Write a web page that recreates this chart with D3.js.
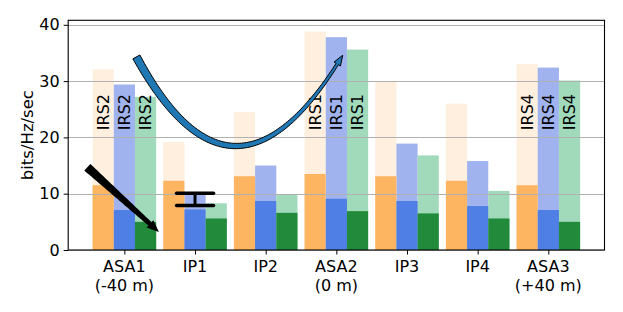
<!DOCTYPE html>
<html>
<head>
<meta charset="utf-8">
<script src="https://cdn.jsdelivr.net/npm/d3@7"></script>
<style>
  body { margin: 0; background: #fff; }
  text { font-family: "DejaVu Sans", sans-serif; fill: #000; }
</style>
</head>
<body>
<div id="chart"></div>
<script>
// categories and tick labels (second line optional)
var categories = ["ASA1", "IP1", "IP2", "ASA2", "IP3", "IP4", "ASA3"];
var subLabels = ["(-40 m)", "", "", "(0 m)", "", "", "(+40 m)"];
var yTicks = [0, 10, 20, 30, 40];

// full-height (light) and base (dark) values per series, bits/Hz/sec
var orangeTotal = [32.1, 19.2, 24.5, 38.8, 29.9, 26.0, 33.0];
var orangeBase  = [11.5, 12.3, 13.1, 13.5, 13.1, 12.3, 11.5];
var blueTotal   = [29.4, 10.0, 15.0, 37.8, 18.9, 15.8, 32.4];
var blueBase    = [7.1, 7.2, 8.7, 9.1, 8.7, 7.8, 7.1];
var greenTotal  = [27.2, 8.3, 9.9, 35.6, 16.8, 10.5, 30.1];
var greenBase   = [5.0, 5.6, 6.6, 6.9, 6.5, 5.6, 5.0];

// IRS label per group
var irsLabels = ["IRS2", "", "", "IRS1", "", "", "IRS4"];

// error bar on IP1 blue bar
var ip1Error = [7.9, 10.1];

var width = 623, height = 312,
    margin = {left: 68.2, right: 18.5, top: 20.3, bottom: 62},
    barFrac = 0.3;

var series = [
    {total: orangeTotal, base: orangeBase, light: "#feefdf", dark: "#feb562"},
    {total: blueTotal, base: blueBase, light: "#a0b3ee", dark: "#4f7fe4"},
    {total: greenTotal, base: greenBase, light: "#a0dabb", dark: "#228b3b"}
];

var x = d3.scaleLinear()
    .domain([-0.795, categories.length - 1 + 0.795])
    .range([margin.left, width - margin.right]);

var y = d3.scaleLinear()
    .domain([0, 40.8])
    .range([height - margin.bottom, margin.top]);

var svg = d3.select("#chart")
    .append("svg")
    .attr("width", width)
    .attr("height", height);

var barW = x(barFrac) - x(0);

var _barX = function(i, s) {
    return x(i) + (s - 1) * barW - barW / 2;
};

// light (total) bars, then dark (base) bars on top
series.forEach(function(ser, s) {
    svg.append("g").selectAll("rect")
        .data(ser.total)
        .enter()
        .append("rect")
        .attr("x", function(d, i) { return _barX(i, s); })
        .attr("y", function(d) { return y(d); })
        .attr("width", barW)
        .attr("height", function(d) { return y(0) - y(d); })
        .style("fill", ser.light);
});

series.forEach(function(ser, s) {
    svg.append("g").selectAll("rect")
        .data(ser.base)
        .enter()
        .append("rect")
        .attr("x", function(d, i) { return _barX(i, s); })
        .attr("y", function(d) { return y(d); })
        .attr("width", barW)
        .attr("height", function(d) { return y(0) - y(d); })
        .style("fill", ser.dark);
});

// horizontal grid
svg.append("g").selectAll("line")
    .data(yTicks)
    .enter()
    .append("line")
    .attr("x1", x.range()[0])
    .attr("x2", x.range()[1])
    .attr("y1", function(d) { return Math.round(y(d)) + 0.5; })
    .attr("y2", function(d) { return Math.round(y(d)) + 0.5; })
    .style("stroke", "#b0b0b0")
    .style("stroke-width", 1.2);

// IRS labels, rotated, in each bar of the group
irsLabels.forEach(function(lbl, i) {
    if (!lbl) return;
    series.forEach(function(ser, s) {
        var cx = _barX(i, s) + barW / 2 + 5.8;
        svg.append("text")
            .attr("transform", "translate(" + cx + "," + y(24.5) + ") rotate(-90)")
            .attr("text-anchor", "middle")
            .style("font-size", "16px")
            .text(lbl);
    });
});

// tapered arrow polygon along a list of pixel points
var taperedArrow = function(pts, w0, w1, headLen, headW) {
    var cum = [0];
    for (var k = 1; k < pts.length; k++) {
        cum.push(cum[k - 1] + Math.hypot(pts[k][0] - pts[k - 1][0], pts[k][1] - pts[k - 1][1]));
    }
    var total = cum[cum.length - 1], baseLen = total - headLen;
    var left = [], right = [], lastN, lastP;
    for (var j = 0; j < pts.length && cum[j] <= baseLen; j++) {
        var a = pts[Math.max(0, j - 1)], b = pts[Math.min(pts.length - 1, j + 1)];
        var tx = b[0] - a[0], ty = b[1] - a[1], tl = Math.hypot(tx, ty);
        var n = [-ty / tl, tx / tl];
        var w = w0 + (w1 - w0) * (cum[j] / baseLen);
        left.push([pts[j][0] + n[0] * w / 2, pts[j][1] + n[1] * w / 2]);
        right.push([pts[j][0] - n[0] * w / 2, pts[j][1] - n[1] * w / 2]);
        lastN = n; lastP = pts[j];
    }
    var apex = pts[pts.length - 1];
    var poly = left.concat([
        [lastP[0] + lastN[0] * headW / 2, lastP[1] + lastN[1] * headW / 2],
        apex,
        [lastP[0] - lastN[0] * headW / 2, lastP[1] - lastN[1] * headW / 2]
    ]).concat(right.reverse());
    return "M" + poly.map(function(p) { return p[0].toFixed(2) + "," + p[1].toFixed(2); }).join("L") + "Z";
};

// curved blue arrow (quadratic bezier in data coordinates)
var curve = [[0.17, 34.3], [1.545, 2.49], [3.09, 34.6]].map(function(p) { return [x(p[0]), y(p[1])]; });
var curvePts = d3.range(0, 1.0001, 1 / 120).map(function(t) {
    var u = 1 - t;
    return [u * u * curve[0][0] + 2 * u * t * curve[1][0] + t * t * curve[2][0],
            u * u * curve[0][1] + 2 * u * t * curve[1][1] + t * t * curve[2][1]];
});
svg.append("path")
    .attr("d", taperedArrow(curvePts, 8, 2.6, 8, 7.5))
    .style("fill", "#1f77b4")
    .style("stroke", "#000")
    .style("stroke-width", 1)
    .style("stroke-linejoin", "miter");

// straight black arrow
var s0 = [x(-0.524), y(14.7)], s1 = [x(0.489), y(3.2)];
var straightPts = d3.range(0, 1.0001, 1 / 40).map(function(t) {
    return [s0[0] + (s1[0] - s0[0]) * t, s0[1] + (s1[1] - s0[1]) * t];
});
svg.append("path")
    .attr("d", taperedArrow(straightPts, 9, 4.5, 10, 10))
    .style("fill", "#000");

// error bar on IP1
var eg = svg.append("g").style("stroke", "#000").style("stroke-linecap", "round");
eg.append("line")
    .attr("x1", x(1)).attr("x2", x(1))
    .attr("y1", y(ip1Error[0])).attr("y2", y(ip1Error[1]))
    .style("stroke-width", 3);
ip1Error.forEach(function(v) {
    eg.append("line")
        .attr("x1", x(1) - 18.5).attr("x2", x(1) + 18.5)
        .attr("y1", y(v)).attr("y2", y(v))
        .style("stroke-width", 3.5);
});

// axes frame
svg.append("rect")
    .attr("x", x.range()[0])
    .attr("y", y.range()[1])
    .attr("width", x.range()[1] - x.range()[0])
    .attr("height", y.range()[0] - y.range()[1])
    .style("fill", "none")
    .style("stroke", "#000")
    .style("stroke-width", 1.1);

// y axis
var yAxis = svg.append("g")
    .attr("transform", "translate(" + x.range()[0] + ",0)")
    .call(d3.axisLeft(y).tickValues(yTicks).tickSize(4.5).tickPadding(4).tickFormat(d3.format("d")));
yAxis.select(".domain").remove();
yAxis.selectAll("text").style("font-size", "16px").style("font-family", "DejaVu Sans");

// x axis ticks
var xAxis = svg.append("g")
    .attr("transform", "translate(0," + y.range()[0] + ")")
    .call(d3.axisBottom(x).tickValues(d3.range(categories.length)).tickSize(4.5).tickFormat(""));
xAxis.select(".domain").remove();

svg.append("g").selectAll("text")
    .data(categories)
    .enter()
    .append("text")
    .attr("x", function(d, i) { return x(i); })
    .attr("y", 272)
    .attr("text-anchor", "middle")
    .style("font-size", "16px")
    .text(function(d) { return d; });

svg.append("g").selectAll("text")
    .data(subLabels)
    .enter()
    .append("text")
    .attr("x", function(d, i) { return x(i); })
    .attr("y", 291)
    .attr("text-anchor", "middle")
    .style("font-size", "16px")
    .text(function(d) { return d; });

// y label
svg.append("text")
    .attr("transform", "translate(33," + ((y.range()[0] + y.range()[1]) / 2) + ") rotate(-90)")
    .attr("text-anchor", "middle")
    .style("font-size", "16.5px")
    .text("bits/Hz/sec");
</script>
</body>
</html>
